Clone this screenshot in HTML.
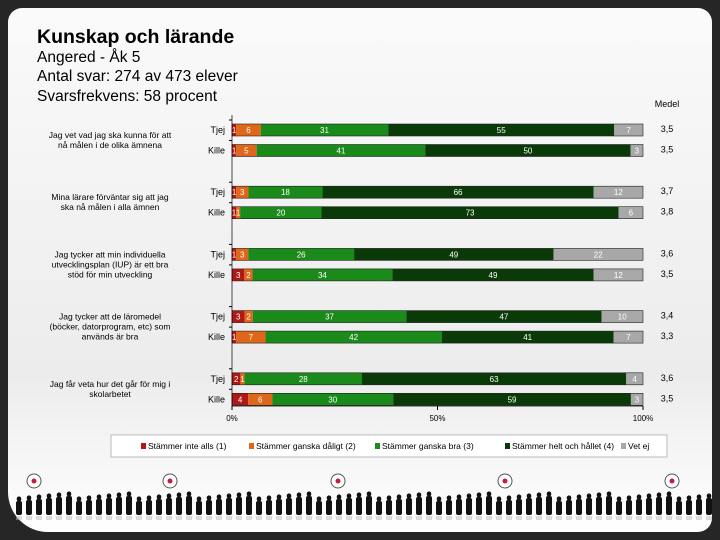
<!DOCTYPE html>
<html><head><meta charset="utf-8"><style>
body{margin:0;width:720px;height:540px;background:#262626;overflow:hidden;font-family:"Liberation Sans",sans-serif;}
#card{position:absolute;left:8px;top:8px;width:704px;height:524px;background:linear-gradient(#fafafa,#ececec 70%,#fff);border-radius:14px 14px 14px 40px;}
.t{position:absolute;color:#000;}
</style></head><body>
<div id="card"></div>
<div class="t" style="left:37px;top:26px;font-size:19.5px;font-weight:bold">Kunskap och lärande</div>
<div class="t" style="left:37px;top:49px;font-size:15.5px">Angered - Åk 5</div>
<div class="t" style="left:37px;top:68px;font-size:15.5px">Antal svar: 274 av 473 elever</div>
<div class="t" style="left:37px;top:88px;font-size:15.5px">Svarsfrekvens: 58 procent</div>
<svg id="chart" width="720" height="540" style="position:absolute;left:0;top:0" font-family="Liberation Sans, sans-serif"></svg>
<script>
const questions=["Jag vet vad jag ska kunna för att|nå målen i de olika ämnena","Mina lärare förväntar sig att jag|ska nå målen i alla ämnen","Jag tycker att min individuella|utvecklingsplan (IUP) är ett bra|stöd för min utveckling","Jag tycker att de läromedel|(böcker, datorprogram, etc) som|används är bra","Jag får veta hur det går för mig i|skolarbetet"];
const groups=["Tjej","Kille"];
const s1=[1,1,1,1,1,3,3,1,2,4];
const s2=[6,5,3,1,3,2,2,7,1,6];
const s3=[31,41,18,20,26,34,37,42,28,30];
const s4=[55,50,66,73,49,49,47,41,63,59];
const s5=[7,3,12,6,22,12,10,7,4,3];
const means=["3,5","3,5","3,7","3,8","3,6","3,5","3,4","3,3","3,6","3,5"];
const ticks=[0,50,100];
const legendLabels=["Stämmer inte alls (1)","Stämmer ganska dåligt (2)","Stämmer ganska bra (3)","Stämmer helt och hållet (4)","Vet ej"];
const colors=["#b01818","#e0661a","#1a8a1a","#0a3a08","#a8a8a8"];
const svg=document.getElementById('chart');const NS="http://www.w3.org/2000/svg";
function el(t,a,txt){const e=document.createElementNS(NS,t);for(const k in a)e.setAttribute(k,a[k]);if(txt!==undefined)e.textContent=txt;svg.appendChild(e);return e;}
const x0=232,x1=643;const xs=v=>x0+(x1-x0)*v/100;
const rowY=i=>124+Math.floor(i/2)*62.2+(i%2)*20.5;
const bh=12;
const series=[s1,s2,s3,s4,s5];
el('text',{x:667,y:107,'font-size':9,'text-anchor':'middle'},'Medel');
for(let i=0;i<10;i++){
  const tot=series.reduce((a,s)=>a+s[i],0);let acc=0;const y=rowY(i);
  for(let k=0;k<5;k++){const v=series[k][i];const xa=xs(acc/tot*100),xb=xs((acc+v)/tot*100);
    const r=el('rect',{x:xa,y:y,width:Math.max(0,xb-xa),height:bh,fill:colors[k]});
    
    
    if(v>0){const t=el('text',{x:(xa+xb)/2,y:y+9,'font-size':8,fill:'#fff','text-anchor':'middle'},v);
      
      }
    acc+=v;}
  el('rect',{x:x0,y:y,width:x1-x0,height:bh,fill:'none',stroke:'#222','stroke-width':0.6});
  el('text',{x:225,y:y+9,'font-size':9,'text-anchor':'end'},groups[i%2]);
  el('text',{x:667,y:y+8,'font-size':9,'text-anchor':'middle'},means[i]);
  el('line',{x1:x0-3,x2:x0,y1:y-4,y2:y-4,stroke:'#000','stroke-width':1});
}
questions.forEach((q,qi)=>{const ls=q.split('|');const yc=rowY(qi*2)+16;
  ls.forEach((l,j)=>{const t=el('text',{x:110,y:yc-(ls.length-1)*5+j*10+3,'font-size':8.5,'text-anchor':'middle'},l);
    
    });});
el('line',{x1:x0,x2:x0,y1:115,y2:406,stroke:'#000','stroke-width':0.7});
el('line',{x1:x0,x2:x1,y1:406,y2:406,stroke:'#000','stroke-width':0.7});
ticks.forEach(t=>{el('line',{x1:xs(t),x2:xs(t),y1:406,y2:410,stroke:'#000'});
  const l=el('text',{x:xs(t),y:421,'font-size':8,'text-anchor':'middle'},t+'%');
  
  });
el('rect',{x:111,y:435,width:556,height:22,fill:'#fff',stroke:'#bbb'});
const lx=[148,256,382,512,628];
legendLabels.forEach((s,k)=>{el('rect',{x:lx[k]-7,y:443,width:5,height:6,fill:colors[k]});
  const t=el('text',{x:lx[k],y:449,'font-size':8.5},s);
  
  });
for(let i=0;i<70;i++){const x=16+i*10;const h=14+((i*7)%6);
  el('ellipse',{cx:x+3,cy:515-h-2,rx:2.3,ry:2.6,fill:'#111'});
  el('rect',{x:x,y:515-h,width:6,height:h,fill:'#111',rx:2});
  el('rect',{x:x,y:516,width:6,height:4,fill:'#bbb',opacity:0.5});}
[34,170,338,505,672].forEach(x=>{el('circle',{cx:x,cy:481,r:7,fill:'#fff',stroke:'#555'});el('circle',{cx:x,cy:481,r:2.5,fill:'#c02040'});});
</script>
</body></html>
